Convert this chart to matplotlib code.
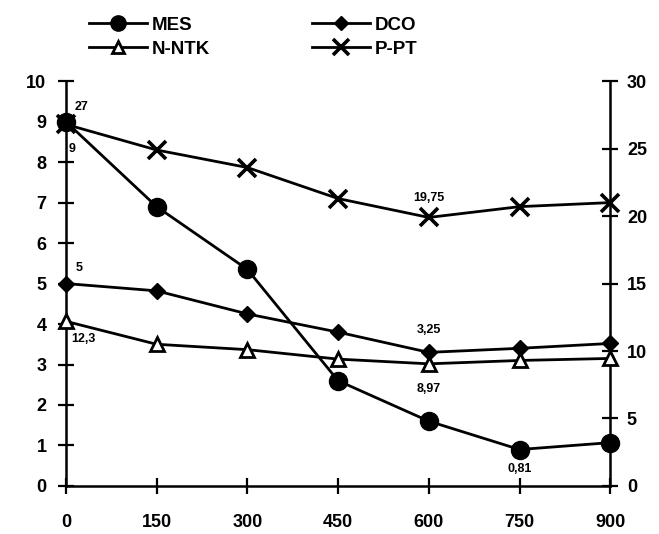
import matplotlib.pyplot as plt
from matplotlib.lines import Line2D

plt.rcParams['font.family'] = ['Liberation Sans', 'DejaVu Sans']
plt.rcParams['font.weight'] = 'bold'

# data
x = [0, 150, 300, 450, 600, 750, 900]
mes = [9.0, 6.9, 5.35, 2.6, 1.6, 0.9, 1.07]        # left axis
dco = [5.0, 4.82, 4.25, 3.8, 3.3, 3.4, 3.52]       # left axis
n_ntk = [12.2, 10.5, 10.1, 9.4, 9.05, 9.3, 9.45]   # right axis
p_pt = [26.8, 24.9, 23.6, 21.3, 19.9, 20.7, 21.0]  # right axis

xticks = [0, 150, 300, 450, 600, 750, 900]
left_ticks = list(range(0, 11))
right_ticks = [0, 5, 10, 15, 20, 25, 30]

fig = plt.figure(figsize=(6.59, 5.34), dpi=100)
ax = fig.add_axes([0.100, 0.090, 0.826, 0.758])
ax2 = ax.twinx()

lw = 2.0
ax.plot(x, mes, color='black', lw=lw, marker='o', ms=13, zorder=3, clip_on=False)
ax.plot(x, dco, color='black', lw=lw, marker='D', ms=8, zorder=3, clip_on=False)
ax2.plot(x, n_ntk, color='black', lw=lw, marker='^', ms=10, mfc='white',
         mew=2, zorder=3, clip_on=False)
ax2.plot(x, p_pt, color='black', lw=lw, marker='x', ms=13, mew=2.6, zorder=3,
         clip_on=False)

ax.set_xlim(0, 900)
ax.set_ylim(0, 10)
ax2.set_ylim(0, 30)
ax.set_xticks(xticks)
ax.set_yticks(left_ticks)
ax2.set_yticks(right_ticks)

for a in (ax, ax2):
    a.spines['top'].set_visible(False)
    for s in a.spines.values():
        s.set_linewidth(1.8)
ax.spines['right'].set_visible(False)
ax2.spines['left'].set_visible(False)
ax2.spines['bottom'].set_visible(False)

ax.tick_params(axis='both', direction='inout', length=12, width=1.6,
               labelsize=13, pad=8)
ax.tick_params(axis='x', pad=14)
ax2.tick_params(axis='y', direction='inout', length=12, width=1.6,
                labelsize=13, pad=6)
for lab in ax.get_xticklabels() + ax.get_yticklabels() + ax2.get_yticklabels():
    lab.set_fontweight('bold')

# value labels
fs = 9
ax.annotate('9', (x[0], mes[0]), xytext=(2, -22), textcoords='offset points',
            fontsize=fs, fontweight='bold')
ax2.annotate('27', (x[0], p_pt[0]), xytext=(6, 10), textcoords='offset points',
             fontsize=fs, fontweight='bold')
ax.annotate('5', (x[0], dco[0]), xytext=(7, 9), textcoords='offset points',
            fontsize=fs, fontweight='bold')
ax2.annotate('12,3', (x[0], n_ntk[0]), xytext=(4, -15), textcoords='offset points',
             fontsize=fs, fontweight='bold')
ax2.annotate('19,75', (x[4], p_pt[4]), xytext=(0, 12), textcoords='offset points',
             fontsize=fs, fontweight='bold', ha='center')
ax.annotate('3,25', (x[4], dco[4]), xytext=(0, 14), textcoords='offset points',
            fontsize=fs, fontweight='bold', ha='center')
ax2.annotate('8,97', (x[4], n_ntk[4]), xytext=(0, -20), textcoords='offset points',
             fontsize=fs, fontweight='bold', ha='center')
ax.annotate('0,81', (x[5], mes[5]), xytext=(0, -16), textcoords='offset points',
            fontsize=fs, fontweight='bold', ha='center')

handles = [
    Line2D([], [], color='black', lw=lw, marker='o', ms=11),
    Line2D([], [], color='black', lw=lw, marker='^', ms=9, mfc='white', mew=2),
    Line2D([], [], color='black', lw=lw, marker='D', ms=7),
    Line2D([], [], color='black', lw=lw, marker='x', ms=11, mew=2.6),
]
names = ['MES', 'N-NTK', 'DCO', 'P-PT']
fig.legend(handles, names, ncol=2, loc='upper left', bbox_to_anchor=(0.11, 1.0),
           frameon=False, handlelength=3.1, handletextpad=0.25,
           columnspacing=5.4, labelspacing=0.35, prop={'weight': 'bold', 'size': 13.5})

fig.savefig('out.png', dpi=100)
